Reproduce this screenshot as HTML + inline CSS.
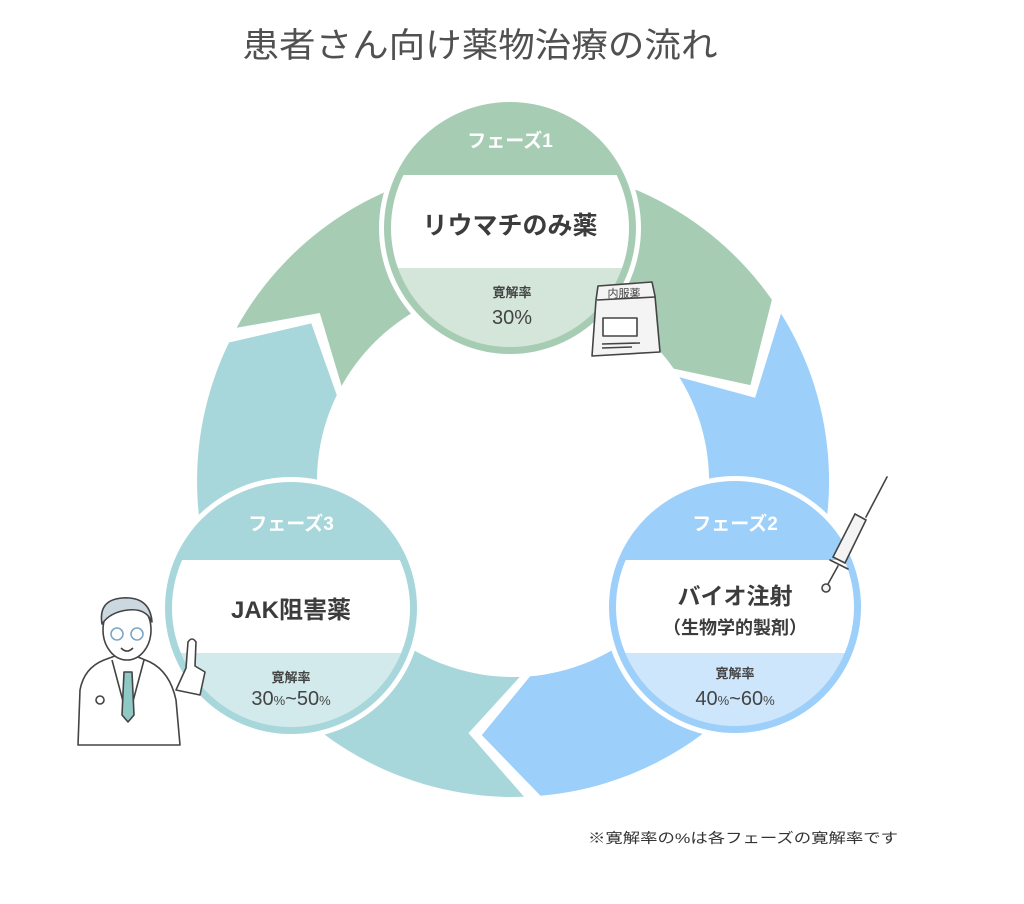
<!DOCTYPE html>
<html><head><meta charset="utf-8"><style>
html,body{margin:0;padding:0;background:#fff;}
body{width:1024px;height:899px;overflow:hidden;font-family:"Liberation Sans","Noto Sans CJK JP",sans-serif;}
text{font-family:"Liberation Sans","Noto Sans CJK JP",sans-serif;}
</style></head><body>
<svg id="s" width="1024" height="899" viewBox="0 0 1024 899" xmlns="http://www.w3.org/2000/svg">
<rect width="1024" height="899" fill="#fff"/>
<text x="480" y="57" font-size="34" fill="#505050" text-anchor="middle" textLength="475" lengthAdjust="spacingAndGlyphs">患者さん向け薬物治療の流れ</text>
<g id="arrows"></g>
<defs>
<clipPath id="c1"><circle cx="510" cy="228" r="119"/></clipPath>
<clipPath id="c2"><circle cx="735" cy="607" r="119"/></clipPath>
<clipPath id="c3"><circle cx="291" cy="608" r="119"/></clipPath>
</defs>
<!-- circle 1 -->
<circle cx="510" cy="228" r="131" fill="#fff"/>
<circle cx="510" cy="228" r="126" fill="#a6cdb4"/>
<g clip-path="url(#c1)">
<rect x="380" y="175" width="260" height="93" fill="#fff"/>
<rect x="380" y="268" width="260" height="100" fill="#d3e6d9"/>
</g>
<text x="510" y="147" font-size="19" font-weight="bold" fill="#fff" text-anchor="middle">フェーズ1</text>
<text x="510" y="234" font-size="25" font-weight="bold" fill="#3c3c3c" text-anchor="middle">リウマチのみ薬</text>
<text x="512" y="297" font-size="13" font-weight="bold" fill="#444" text-anchor="middle">寛解率</text>
<text x="512" y="324" font-size="20" fill="#444" text-anchor="middle">30%</text>
<!-- circle 2 -->
<circle cx="735" cy="607" r="131" fill="#fff"/>
<circle cx="735" cy="607" r="126" fill="#9ccffa"/>
<g clip-path="url(#c2)">
<rect x="600" y="560" width="270" height="93" fill="#fff"/>
<rect x="600" y="653" width="270" height="100" fill="#cde6fc"/>
</g>
<text x="735" y="530" font-size="19" font-weight="bold" fill="#fff" text-anchor="middle">フェーズ2</text>
<text x="735" y="604" font-size="23" font-weight="bold" fill="#3c3c3c" text-anchor="middle">バイオ注射</text>
<text x="735" y="634" font-size="18" font-weight="bold" fill="#3c3c3c" text-anchor="middle">（生物学的製剤）</text>
<text x="735" y="678" font-size="13" font-weight="bold" fill="#444" text-anchor="middle">寛解率</text>
<text x="735" y="705" font-size="20" fill="#444" text-anchor="middle">40<tspan font-size="13">%</tspan>~60<tspan font-size="13">%</tspan></text>
<!-- circle 3 -->
<circle cx="291" cy="608" r="131" fill="#fff"/>
<circle cx="291" cy="608" r="126" fill="#a7d7db"/>
<g clip-path="url(#c3)">
<rect x="160" y="560" width="270" height="93" fill="#fff"/>
<rect x="160" y="653" width="270" height="100" fill="#d2eaeb"/>
</g>
<text x="291" y="530" font-size="19" font-weight="bold" fill="#fff" text-anchor="middle">フェーズ3</text>
<text x="291" y="618" font-size="24" font-weight="bold" fill="#3c3c3c" text-anchor="middle">JAK阻害薬</text>
<text x="291" y="682" font-size="13" font-weight="bold" fill="#444" text-anchor="middle">寛解率</text>
<text x="291" y="705" font-size="20" fill="#444" text-anchor="middle">30<tspan font-size="13">%</tspan>~50<tspan font-size="13">%</tspan></text>
<!-- medicine bag -->
<g stroke="#444" stroke-width="1.6" fill="#f4f4f4" stroke-linejoin="round">
<path d="M598 286 L652 282 L655 296 L660 352 L592 356 L596 300 Z"/>
<line x1="597" y1="300" x2="655" y2="297"/>
<rect x="603" y="318" width="34" height="18" fill="#fff"/>
<line x1="602" y1="344" x2="640" y2="343"/>
<line x1="602" y1="348" x2="632" y2="347"/>
</g>
<text x="624" y="297" font-size="11" fill="#444" text-anchor="middle">内服薬</text>
<!-- syringe -->
<g stroke="#444" stroke-width="1.6" fill="#f4f4f4" stroke-linecap="round">
<line x1="866" y1="517" x2="887" y2="477"/>
<path d="M855 514 L866 520 L845 563 L833 557 Z"/>
<line x1="830" y1="560" x2="848" y2="569"/>
<line x1="838" y1="566" x2="828" y2="584"/>
<circle cx="826" cy="588" r="4"/>
</g>
<!-- doctor -->
<g stroke="#444" stroke-width="1.6" stroke-linejoin="round" fill="#fff">
<path d="M78 745 L80 690 Q84 668 104 660 L126 652 L150 662 Q170 672 176 700 L180 745 Z"/>
<path d="M112 660 L128 720 L144 660" fill="#fff"/>
<path d="M124 672 L132 672 L134 715 L128 722 L122 715 Z" fill="#8fc9c6"/>
<ellipse cx="127" cy="630" rx="24" ry="30" fill="#fff"/>
<path d="M102 624 Q98 600 122 598 Q150 596 152 622 Q146 608 128 610 Q110 612 102 624 Z" fill="#ccd8e0"/>
<circle cx="117" cy="634" r="6" fill="none" stroke="#7aa6c9"/>
<circle cx="137" cy="634" r="6" fill="none" stroke="#7aa6c9"/>
<path d="M121 648 Q127 654 133 648" fill="none"/>
<path d="M176 690 L186 668 L188 642 Q192 636 196 642 L195 666 L205 672 L200 695 Z" fill="#fff"/>
<circle cx="100" cy="700" r="4"/>
</g>
<text x="743" y="843" font-size="14" fill="#333" textLength="310" lengthAdjust="spacingAndGlyphs" text-anchor="middle">※寛解率の%は各フェーズの寛解率です</text>
</svg>
<script>
(function(){
var cx=513,cy=481,Ro=316,Ri=196,Rm=256;
function p(r,a){var t=a*Math.PI/180;return (cx+r*Math.cos(t)).toFixed(1)+" "+(cy+r*Math.sin(t)).toFixed(1);}
function arrow(t,n,h,tip,col){
 return '<path fill="'+col+'" d="M'+p(Ro,t)+' A'+Ro+' '+Ro+' 0 0 1 '+p(Ro,h)+' L'+p(Rm,tip)+' L'+p(Ri,h)+' A'+Ri+' '+Ri+' 0 0 0 '+p(Ri,t)+' L'+p(Rm,n)+' Z"/>';
}
var s='';
s+=arrow(209,221,325,338,'#a6cdb4');
s+=arrow(328,341,445,457,'#9ccffa');
s+=arrow(88,100,206,218,'#a7d7db');
document.getElementById('arrows').innerHTML=s;
})();
</script>
</body></html>
